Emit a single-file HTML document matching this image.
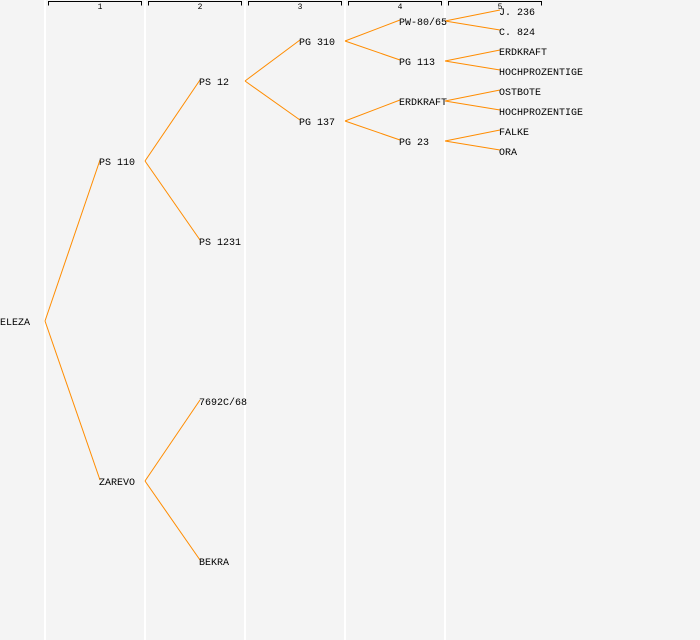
<!DOCTYPE html>
<html><head><meta charset="utf-8"><style>
html,body{margin:0;padding:0;background:#f4f4f4;}
svg{display:block;}
text{font-family:"Liberation Mono","DejaVu Sans Mono",monospace;font-size:10px;fill:#000;}
.ax{font-size:8px;}
</style></head><body>
<svg id="chart" width="700" height="640" xmlns="http://www.w3.org/2000/svg">
<rect width="700" height="640" fill="#f4f4f4"/>
<g id="grid"></g><g id="links"></g><g id="nodes"></g>
</svg>
<script>
const levelLabels=["1","2","3","4","5"];
const nodeNames=["ELEZA","PS 110","ZAREVO","PS 12","PS 1231","7692C/68","BEKRA","PG 310","PG 137","PW-80/65","PG 113","ERDKRAFT","PG 23","J. 236","C. 824","ERDKRAFT","HOCHPROZENTIGE","OSTBOTE","HOCHPROZENTIGE","FALKE","ORA"];
const nodeDepth=[0,1,1,2,2,2,2,3,3,4,4,4,4,5,5,5,5,5,5,5,5];
const nodeRow=[322,162,482,82,242,402,562,42,122,22,62,102,142,12,32,52,72,92,112,132,152];
const nodeParent=[-1,0,0,1,1,2,2,3,3,7,7,8,8,9,9,10,10,11,11,12,12];
const NS="http://www.w3.org/2000/svg";
const xText=d=>d===0?0:d*100-1;
const xSrc=d=>d*100+45;
const grid=document.getElementById('grid'),links=document.getElementById('links'),nodes=document.getElementById('nodes');
function mk(tag,attrs,parent){const e=document.createElementNS(NS,tag);for(const k in attrs)e.setAttribute(k,attrs[k]);parent.appendChild(e);return e;}
for(let i=0;i<levelLabels.length;i++){
  const x=45+i*100;
  const gl=mk('line',{x1:x,y1:0,x2:x,y2:640,stroke:'#ffffff','stroke-width':2},grid);
  
  
  const br=mk('path',{d:`M${x+3.5},5.5V1.5H${x+96.5}V5.5`,fill:'none',stroke:'#000','stroke-width':1},grid);
  
  
  const t=mk('text',{x:x+55,y:9,'text-anchor':'middle',class:'ax'},grid);
  t.textContent=levelLabels[i];
  
  
}
for(let i=0;i<nodeNames.length;i++){
  const p=nodeParent[i];
  if(p>=0){
    const l=mk('line',{x1:xSrc(nodeDepth[p]),y1:nodeRow[p]-1,x2:nodeDepth[i]*100,y2:nodeRow[i]-2,stroke:'#ff8c00','stroke-width':1},links);
    
    
  }
  const t=mk('text',{x:xText(nodeDepth[i]),y:nodeRow[i]+3},nodes);
  t.textContent=nodeNames[i];
  
  
}
</script>
</body></html>
